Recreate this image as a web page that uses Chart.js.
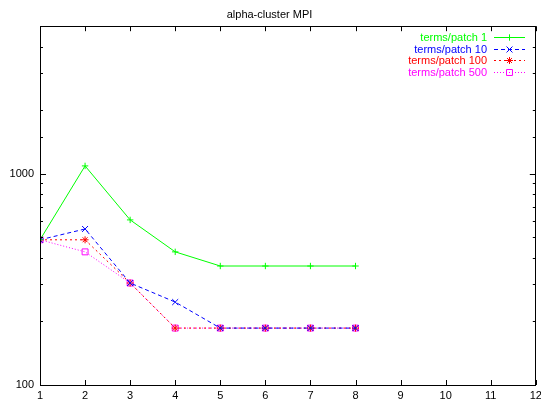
<!DOCTYPE html>
<html>
<head>
<meta charset="utf-8">
<script src="https://cdn.jsdelivr.net/npm/chart.js@4.4.1/dist/chart.umd.min.js"></script>
<style>
  html, body { margin: 0; padding: 0; background: #fff; }
  #wrap { width: 541px; height: 403px; }
</style>
</head>
<body>
<div id="wrap"><canvas id="mycanvas" width="541" height="403"></canvas></div>
<script>
// data
var procs = [1, 2, 3, 4, 5, 6, 7, 8];
var terms1 = [487, 1090, 605, 427, 366, 366, 366, 366];
var terms10 = [487, 548, 304, 247, 186, 186, 186, 186];
var terms100 = [487, 487, 304, 186, 186, 186, 186, 186];
var terms500 = [487, 427, 304, 186, 186, 186, 186, 186];
var xTicks = [1, 2, 3, 4, 5, 6, 7, 8, 9, 10, 11, 12];
var yLabels = [100, 1000];

function pts(ys) {
  var out = [];
  for (var i in procs) out.push({x: procs[i], y: ys[i]});
  return out;
}

function series(label, ys, color, dash, style, r) {
  var fillC = style === 'rect' ? 'rgba(0,0,0,0)' : color;
  return {
    label: label, data: pts(ys), borderColor: color, backgroundColor: fillC,
    borderWidth: 1, borderDash: dash, pointStyle: style, pointRadius: r,
    pointBorderWidth: 1, pointBorderColor: color, pointBackgroundColor: fillC,
    tension: 0, fill: false
  };
}

var datasets = [
  series('terms/patch 1', terms1, '#00ff00', [], 'cross', 3.2),
  series('terms/patch 10', terms10, '#0000ff', [4, 3], 'crossRot', 4.2),
  series('terms/patch 100', terms100, '#ff0000', [2, 3], 'star', 3.5),
  series('terms/patch 500', terms500, '#ff00ff', [1, 2], 'rect', 4.2)
];

// gnuplot style box, inward ticks and key in the top right
var gnuplotFrame = {
  id: 'gnuplotFrame',
  afterDatasetsDraw: function(chart) {
    var ctx = chart.ctx, a = chart.chartArea;
    var xs = chart.scales.x, ys = chart.scales.y;
    ctx.save();
    ctx.strokeStyle = '#000';
    ctx.lineWidth = 1;
    ctx.setLineDash([]);
    ctx.strokeRect(Math.round(a.left) + 0.5, Math.round(a.top) + 0.5,
      Math.round(a.right - a.left) - 1, Math.round(a.bottom - a.top));
    ctx.beginPath();
    xTicks.forEach(function(v) {
      var px = Math.round(xs.getPixelForValue(v)) + 0.5;
      ctx.moveTo(px, a.bottom); ctx.lineTo(px, a.bottom - 5);
      ctx.moveTo(px, a.top); ctx.lineTo(px, a.top + 5);
    });
    ys.ticks.forEach(function(t) {
      var py = Math.round(ys.getPixelForValue(t.value)) + 0.5;
      var len = yLabels.indexOf(t.value) >= 0 ? 6 : 3;
      ctx.moveTo(a.left, py); ctx.lineTo(a.left + len, py);
      ctx.moveTo(a.right, py); ctx.lineTo(a.right - len, py);
    });
    ctx.stroke();

    // key
    ctx.font = '11px "Liberation Sans", Arial, sans-serif';
    ctx.textAlign = 'right';
    ctx.textBaseline = 'middle';
    chart.data.datasets.forEach(function(ds, i) {
      var y = Math.round(37 + i * 11.5) + 0.5;
      ctx.fillStyle = ds.borderColor;
      ctx.fillText(ds.label, 487, y);
      ctx.strokeStyle = ds.borderColor;
      ctx.lineWidth = 1;
      ctx.setLineDash(ds.borderDash);
      ctx.beginPath();
      ctx.moveTo(494, y);
      ctx.lineTo(525, y);
      ctx.stroke();
      ctx.setLineDash([]);
      ctx.strokeStyle = ds.borderColor;
      ctx.fillStyle = ds.pointBackgroundColor;
      Chart.helpers.drawPoint(ctx, {
        pointStyle: ds.pointStyle, radius: ds.pointRadius,
        rotation: 0, borderWidth: 1
      }, 509.5, y);
    });
    ctx.restore();
  }
};

var ctx = document.getElementById('mycanvas');
var font = {family: '"Liberation Sans", Arial, sans-serif', size: 11};

var chart = new Chart(ctx, {
  type: 'line',
  data: {datasets: datasets},
  plugins: [gnuplotFrame],
  options: {
    responsive: false,
    animation: false,
    layout: {padding: {left: 0, right: 2, top: 0, bottom: 0}},
    plugins: {
      legend: {display: false},
      tooltip: {enabled: false},
      title: {
        display: true, text: 'alpha-cluster MPI', color: '#000',
        font: {family: font.family, size: 11, weight: 'normal'},
        padding: {top: 8, bottom: 5}
      }
    },
    scales: {
      x: {
        type: 'linear', min: 1, max: 12,
        grid: {display: false, drawTicks: false},
        border: {display: false},
        ticks: {stepSize: 1, padding: 4, color: '#000', maxRotation: 0, autoSkip: false, font: font},
        afterFit: function(scale) {
          scale.paddingRight = 0;
          scale.paddingLeft = 0;
          scale.height = 18;
        }
      },
      y: {
        type: 'logarithmic', min: 100, max: 5000,
        grid: {display: false, drawTicks: false},
        border: {display: false},
        ticks: {
          padding: 6, color: '#000', autoSkip: false, font: font,
          callback: function(v) { return yLabels.indexOf(v) >= 0 ? String(v) : ''; }
        },
        afterFit: function(scale) {
          scale.width = 40;
          scale.paddingTop = 0;
          scale.paddingBottom = 0;
        }
      }
    }
  }
});
</script>
</body>
</html>
